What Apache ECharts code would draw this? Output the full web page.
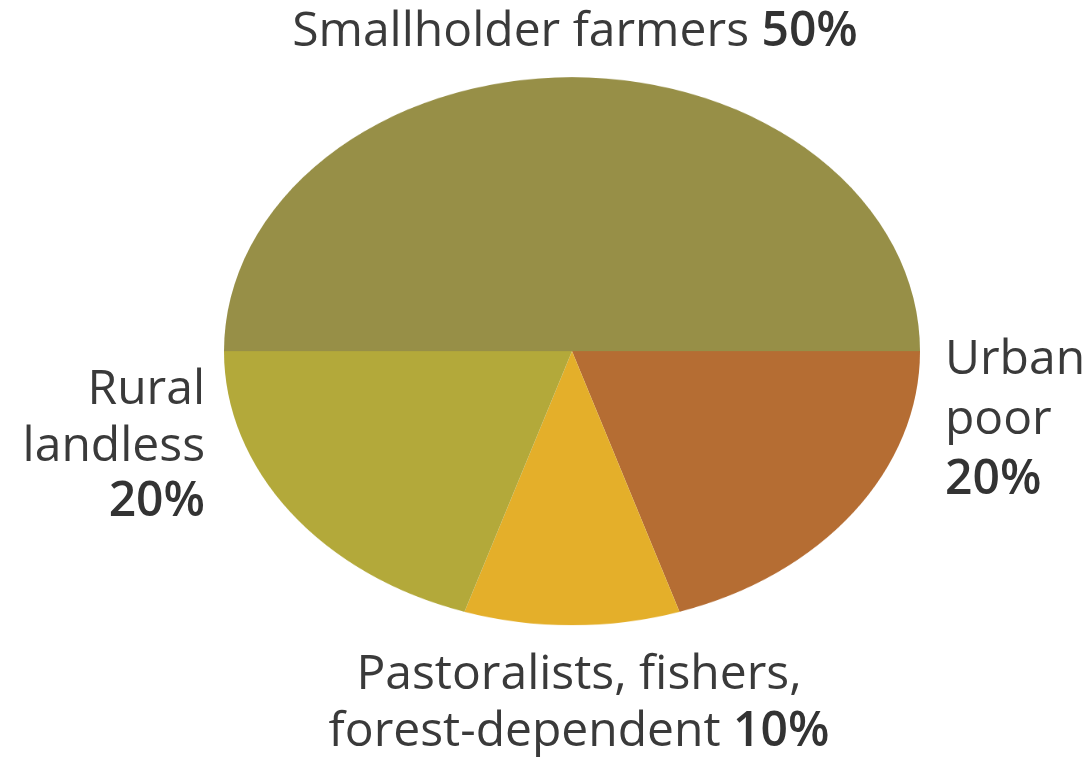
<!DOCTYPE html>
<html><head><meta charset="utf-8">
<script src="https://cdn.jsdelivr.net/npm/echarts@6/dist/echarts.min.js"></script>
<style>
html,body{margin:0;padding:0;background:#fff;overflow:hidden}
#wrap{position:relative;width:1087px;height:758px}
#pie{position:absolute;left:0;top:0;width:1087px;height:800px;transform:scaleY(0.7874);transform-origin:0 0}
#lab{position:absolute;left:0;top:0;width:1087px;height:758px}
</style></head><body>
<div id="wrap"><div id="pie"></div><div id="lab"></div></div>
<script>
// ---- data ----
const categories = ['Smallholder farmers', 'Urban poor', 'Pastoralists, fishers, forest-dependent', 'Rural landless'];
const values = [50, 20, 10, 20];
const colors = ['#978F47', '#B56D33', '#E4AF2A', '#B3A93A'];
const labelLines = [['Smallholder farmers'], ['Urban', 'poor'], ['Pastoralists, fishers,', 'forest-dependent'], ['Rural', 'landless']];

// ---- layout (styles / positions of the labels) ----
const FS = 48;
const FF = 'Open Sans';
const layout = [
  { x: 575, align: 'center', baselines: [48], inline: true },
  { x: 945, align: 'left', baselines: [376, 436, 496], inline: false },
  { x: 579, align: 'center', baselines: [691, 748], inline: true },
  { x: 205, align: 'right', baselines: [406, 463, 518], inline: false }
];

const pie = echarts.init(document.getElementById('pie'));
pie.setOption({
  animation: false,
  series: [{
    type: 'pie',
    silent: true,
    startAngle: 180,
    clockwise: true,
    center: [572, 446],
    radius: 348,
    label: { show: false },
    labelLine: { show: false },
    itemStyle: { borderWidth: 0 },
    data: categories.map((c, i) => ({ name: c, value: values[i], itemStyle: { color: colors[i] } }))
  }]
});

const rich = {
  n: { fontFamily: FF, fontSize: FS, fontWeight: 'normal', fill: '#3a3a3a', color: '#3a3a3a' },
  b: { fontFamily: FF, fontSize: FS, fontWeight: 600, fill: '#333333', color: '#333333' }
};
const elements = [];
categories.forEach((c, i) => {
  const L = layout[i];
  const pct = values[i] + '%';
  const lines = labelLines[i].map(t => '{n|' + t + '}');
  if (L.inline) lines[lines.length - 1] += '{n| }{b|' + pct + '}';
  else lines.push('{b|' + pct + '}');
  lines.forEach((t, k) => {
    elements.push({
      type: 'text',
      x: L.x,
      y: L.baselines[k] - 16,
      silent: true,
      style: {
        text: t, rich: rich,
        fontFamily: FF, fontSize: FS, fill: '#3a3a3a',
        align: L.align, verticalAlign: 'middle'
      }
    });
  });
});
const lab = echarts.init(document.getElementById('lab'));
lab.setOption({ animation: false, graphic: { elements: elements } });
</script>
</body></html>
